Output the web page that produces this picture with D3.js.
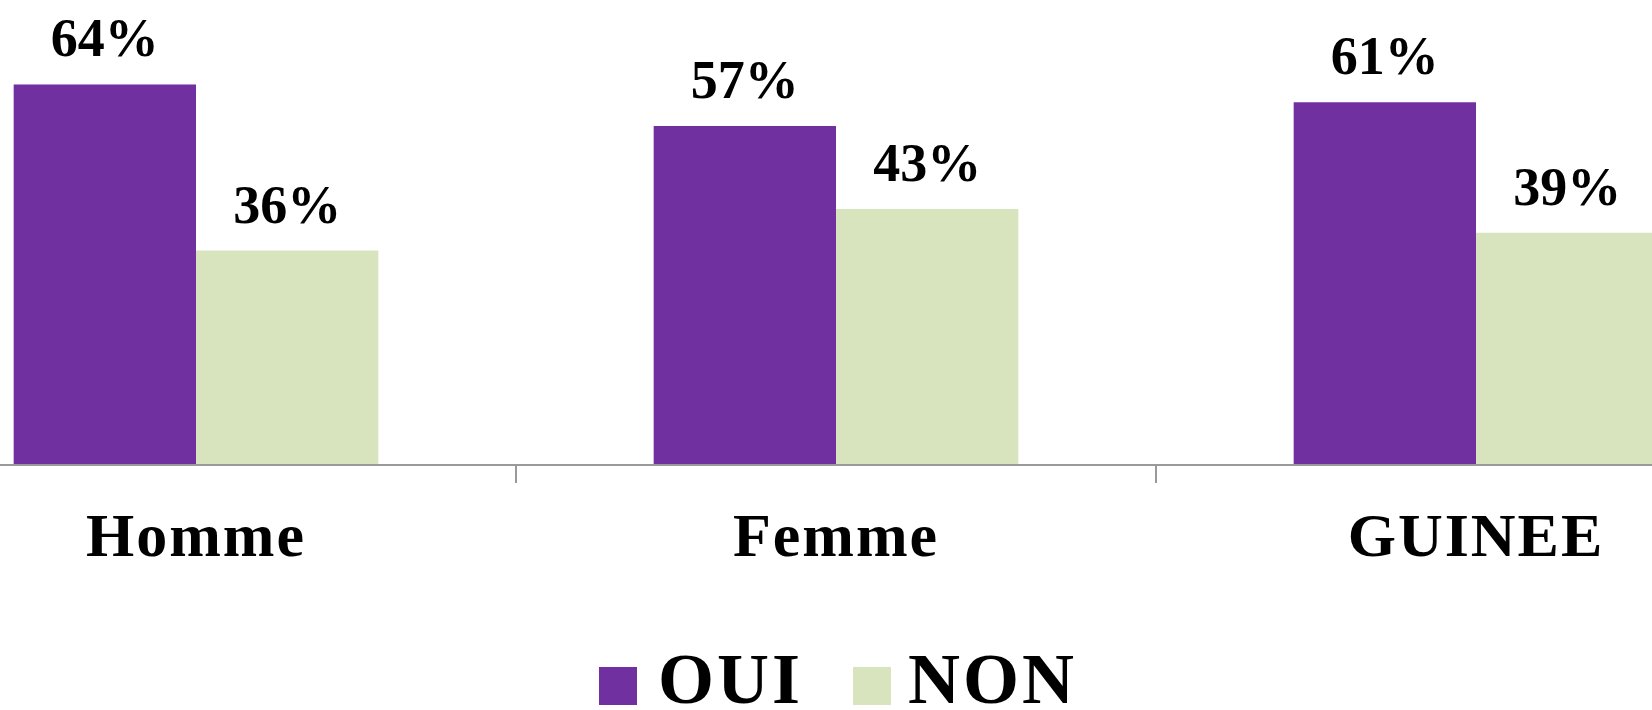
<!DOCTYPE html>
<html>
<head>
<meta charset="utf-8">
<script src="https://cdn.jsdelivr.net/npm/d3@7"></script>
<style>
  body { margin: 0; background: #fff; }
  svg { display: block; font-family: "Liberation Serif", "Times New Roman", serif; font-weight: bold; }
</style>
</head>
<body>
<svg id="chart"></svg>
<script>
// categories and series
var categories = ["Homme", "Femme", "GUINEE"];
var series = ["OUI", "NON"];
var ouiValues = [64, 57, 61];
var nonValues = [36, 43, 39];
var colors = ["#7030A0", "#D7E4BD"];

var W = 1652, H = 710;
var base = 464;

var svg = d3.select("#chart").attr("width", W).attr("height", H);

// build rows from the arrays
var rows = categories.map(function (c, i) {
  return { cat: c, values: [ouiValues[i], nonValues[i]] };
});

// X scales (plot area is wider than the picture, it is cropped on both sides)
var x0 = d3.scaleBand().domain(categories).range([-124, 1796]).paddingInner(0);
var x1 = d3.scaleBand().domain(series).range([0, x0.bandwidth()]).paddingOuter(0.755);

// Y scale
var y = d3.scaleLinear().domain([0, 100]).range([base, base - 593]);

var color = d3.scaleOrdinal().domain(series).range(colors);

// bars
var groups = svg.selectAll("g.grp")
  .data(rows)
  .join("g")
  .attr("class", "grp")
  .attr("transform", function (d) { return "translate(" + x0(d.cat) + ",0)"; });

groups.selectAll("rect")
  .data(function (d) { return d.values.map(function (v, i) { return { s: series[i], v: v }; }); })
  .join("rect")
  .attr("x", function (d) { return x1(d.s); })
  .attr("y", function (d) { return y(d.v); })
  .attr("width", x1.bandwidth())
  .attr("height", function (d) { return base - y(d.v); })
  .attr("fill", function (d) { return color(d.s); });

// value labels
groups.selectAll("text")
  .data(function (d) { return d.values.map(function (v, i) { return { s: series[i], v: v }; }); })
  .join("text")
  .attr("x", function (d) { return x1(d.s) + x1.bandwidth() / 2; })
  .attr("y", function (d) { return y(d.v) - 28; })
  .attr("text-anchor", "middle")
  .style("font-size", "54px")
  .text(function (d) { return d.v + "%"; });

// category axis: line + ticks between categories
svg.append("line")
  .attr("x1", 0).attr("x2", W)
  .attr("y1", base + 1).attr("y2", base + 1)
  .attr("stroke", "#9a9a9a")
  .attr("stroke-width", 2);

svg.selectAll("line.tick")
  .data(categories.slice(1))
  .join("line")
  .attr("class", "tick")
  .attr("x1", function (d) { return x0(d); })
  .attr("x2", function (d) { return x0(d); })
  .attr("y1", base + 1)
  .attr("y2", base + 19)
  .attr("stroke", "#9a9a9a")
  .attr("stroke-width", 2);

svg.selectAll("text.cat")
  .data(categories)
  .join("text")
  .attr("class", "cat")
  .attr("x", function (d) { return x0(d) + x0.bandwidth() / 2; })
  .attr("y", 556)
  .attr("text-anchor", "middle")
  .style("font-size", "62px")
  .style("letter-spacing", "2px")
  .text(function (d) { return d; });

// legend
var legendX = [599, 853];
var legend = svg.selectAll("g.leg")
  .data(series)
  .join("g")
  .attr("class", "leg")
  .attr("transform", function (d, i) { return "translate(" + legendX[i] + ",667)"; });

legend.append("rect")
  .attr("width", 38)
  .attr("height", 38)
  .attr("fill", function (d) { return color(d); });

legend.append("text")
  .attr("x", function (d, i) { return i === 0 ? 59 : 55; })
  .attr("y", 36)
  .style("font-size", "72px")
  .style("letter-spacing", "3px")
  .text(function (d) { return d; });
</script>
</body>
</html>
